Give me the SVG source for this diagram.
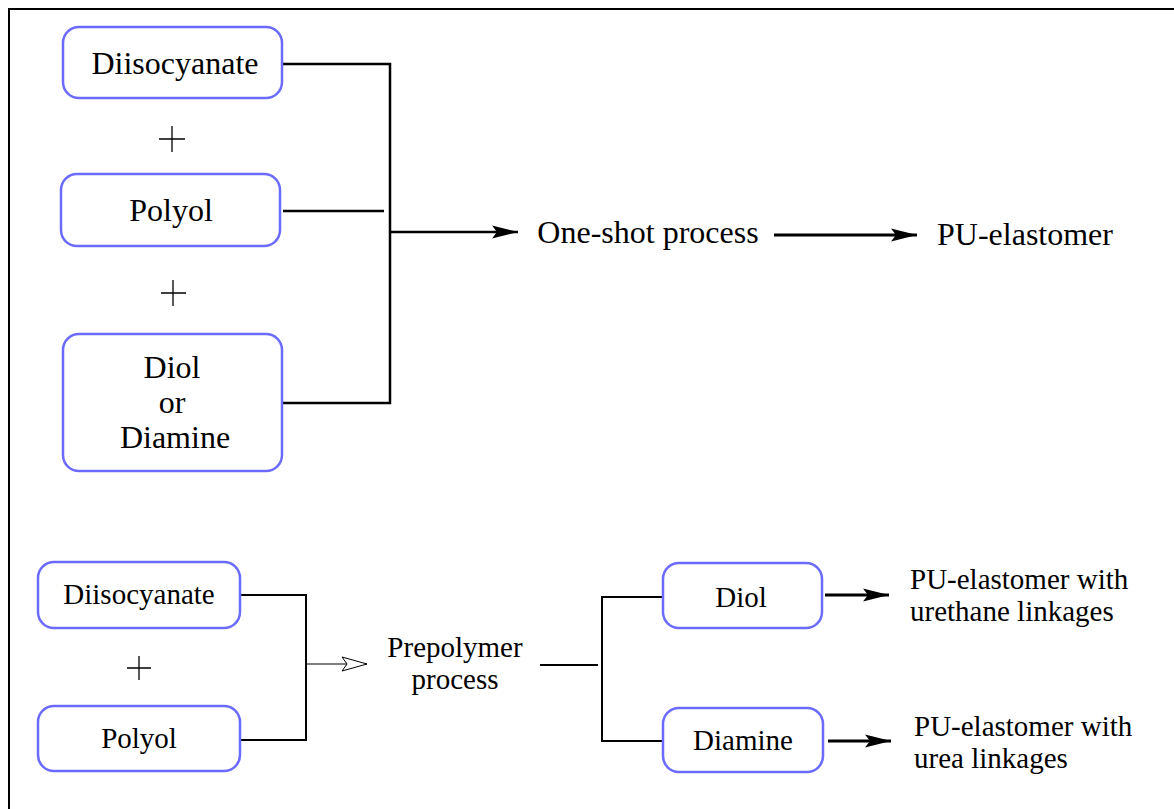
<svg xmlns="http://www.w3.org/2000/svg" width="1174" height="809" viewBox="0 0 1174 809">
<defs>
<style>
.box{fill:#fff;stroke:#6b6bff;stroke-width:2.5}
.t{font-family:"Liberation Serif","Times New Roman",serif;fill:#000;text-anchor:middle}
.big{font-size:32px}
.sm{font-size:29px}
.ln{fill:none;stroke:#000;stroke-width:2.5}
.ln2{fill:none;stroke:#000;stroke-width:2}
.thin{fill:none;stroke:#000;stroke-width:1.2}
.arr{fill:none;stroke:#000;stroke-width:3}
.plus{stroke:#000;stroke-width:1.3}
</style>
<marker id="ah" markerUnits="userSpaceOnUse" viewBox="-1 -8 28 16" markerWidth="28" markerHeight="16" refX="26" refY="0" orient="auto">
<path d="M0,-6.5 L26,0 L0,6.5 L5,0 z" fill="#000"/>
</marker>
<marker id="oh" markerUnits="userSpaceOnUse" viewBox="-1 -8 28 16" markerWidth="28" markerHeight="16" refX="25" refY="0" orient="auto">
<path d="M0,-7 L25,0 L0,7 L5,0 z" fill="#fff" stroke="#000" stroke-width="1"/>
</marker>
</defs>
<rect x="0" y="0" width="1174" height="809" fill="#fff"/>
<rect x="9" y="9" width="1200" height="850" fill="none" stroke="#000" stroke-width="2"/>

<g id="connectors">
<path class="ln" d="M282,64 H390 V403 H282"/>
<path class="ln" d="M283,211 H384"/>
<path class="ln" d="M391,232 H518" marker-end="url(#ah)"/>
<path class="arr" d="M774,235 H917" marker-end="url(#ah)"/>
<path class="ln2" d="M240,595 H306 V740 H240"/>
<path class="thin" d="M306,664 H367" marker-end="url(#oh)"/>
<path class="ln2" d="M540,665 H598"/>
<path class="ln2" d="M663,597 H602 V741 H663"/>
<path class="arr" d="M825,595 H889" marker-end="url(#ah)"/>
<path class="arr" d="M828,741 H891" marker-end="url(#ah)"/>
</g>

<g id="n-diiso-top">
<rect class="box" x="63" y="27" width="219" height="71" rx="16"/>
<text class="t big" x="175" y="74">Diisocyanate</text>
</g>
<g id="plus1"><path class="plus" d="M159,139 H185 M172,126 V152"/></g>
<g id="n-polyol-top">
<rect class="box" x="61" y="174" width="219" height="72" rx="16"/>
<text class="t big" x="171" y="221">Polyol</text>
</g>
<g id="plus2"><path class="plus" d="M161,293 H186 M173,280 V306"/></g>
<g id="n-diol-diamine">
<rect class="box" x="63" y="334" width="219" height="137" rx="16"/>
<text class="t big" x="172" y="378">Diol</text>
<text class="t big" x="172" y="413">or</text>
<text class="t big" x="175" y="448">Diamine</text>
</g>
<g id="n-oneshot">
<text class="t big" x="648" y="243">One-shot process</text>
</g>
<g id="n-pu-top">
<text class="t big" x="1025" y="245">PU-elastomer</text>
</g>

<g id="n-diiso-bot">
<rect class="box" x="38" y="562" width="202" height="66" rx="16"/>
<text class="t sm" x="139" y="604">Diisocyanate</text>
</g>
<g id="plus3"><path class="plus" d="M127,668 H151 M139,656 V680"/></g>
<g id="n-polyol-bot">
<rect class="box" x="38" y="706" width="202" height="65" rx="16"/>
<text class="t sm" x="139" y="748">Polyol</text>
</g>
<g id="n-prepolymer">
<text class="t sm" x="455" y="657">Prepolymer</text>
<text class="t sm" x="455" y="689">process</text>
</g>
<g id="n-diol-bot">
<rect class="box" x="663" y="563" width="159" height="65" rx="16"/>
<text class="t sm" x="741" y="607">Diol</text>
</g>
<g id="n-diamine-bot">
<rect class="box" x="663" y="708" width="160" height="64" rx="16"/>
<text class="t sm" x="743" y="750">Diamine</text>
</g>
<g id="n-pu-urethane">
<text class="t sm" x="910" y="589" style="text-anchor:start">PU-elastomer with</text>
<text class="t sm" x="910" y="621" style="text-anchor:start">urethane linkages</text>
</g>
<g id="n-pu-urea">
<text class="t sm" x="914" y="736" style="text-anchor:start">PU-elastomer with</text>
<text class="t sm" x="914" y="768" style="text-anchor:start">urea linkages</text>
</g>
</svg>
